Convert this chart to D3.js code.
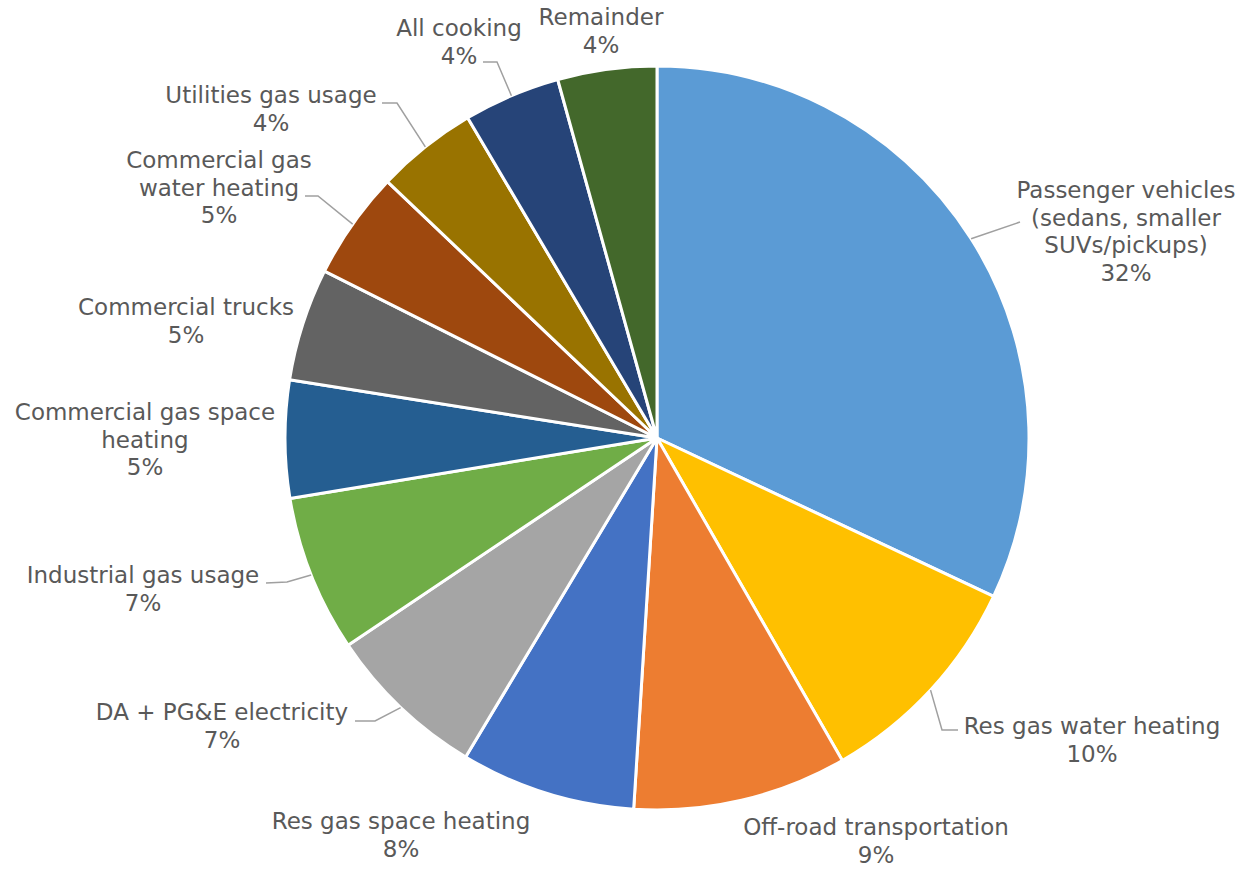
<!DOCTYPE html>
<html>
<head>
<meta charset="utf-8">
<script src="https://cdn.jsdelivr.net/npm/d3@7"></script>
<style>
  body { margin: 0; background: #fff; }
  text { font-family: "DejaVu Sans", Verdana, sans-serif; fill: #595959; }
</style>
</head>
<body>
<svg id="chart" width="1250" height="869"></svg>
<script>
"use strict";

// slices, clockwise from 12 o'clock
var categories = [
  "Passenger vehicles (sedans, smaller SUVs/pickups)",
  "Res gas water heating",
  "Off-road transportation",
  "Res gas space heating",
  "DA + PG&E electricity",
  "Industrial gas usage",
  "Commercial gas space heating",
  "Commercial trucks",
  "Commercial gas water heating",
  "Utilities gas usage",
  "All cooking",
  "Remainder"
];
var shares = [32.0, 9.7, 9.3, 7.6, 7.0, 6.8, 5.1, 4.9, 4.7, 4.4, 4.2, 4.3];

// how each label wraps in the original
var labelLines = [
  ["Passenger vehicles", "(sedans, smaller", "SUVs/pickups)"],
  ["Res gas water heating"],
  ["Off-road transportation"],
  ["Res gas space heating"],
  ["DA + PG&E electricity"],
  ["Industrial gas usage"],
  ["Commercial gas space", "heating"],
  ["Commercial trucks"],
  ["Commercial gas", "water heating"],
  ["Utilities gas usage"],
  ["All cooking"],
  ["Remainder"]
];

var colors = ["#5b9bd5", "#ffc000", "#ed7d31", "#4472c4", "#a5a5a5", "#70ad47",
              "#255e91", "#636363", "#9e480e", "#997300", "#264478", "#43682b"];

// label block centre (x, first baseline) and leader bend/end, per slice
var labelLayout = [
  {x: 1126, y: 198, lead: [1020, 222]},
  {x: 1092, y: 734, lead: [958, 730], elbow: [942, 730]},
  {x: 876,  y: 835},
  {x: 401,  y: 829},
  {x: 222,  y: 720, lead: [355, 721], elbow: [375, 721]},
  {x: 143,  y: 583, lead: [266, 583], elbow: [287, 582]},
  {x: 145,  y: 420},
  {x: 186,  y: 315},
  {x: 219,  y: 168, lead: [305, 196], elbow: [318, 196]},
  {x: 271,  y: 103, lead: [382, 103], elbow: [397, 103]},
  {x: 459,  y: 36,  lead: [483, 62], elbow: [497, 62]},
  {x: 601,  y: 25}
];

var cx = 657, cy = 438, R = 372;
var lineH = 27.5;

var svg = d3.select("#chart");
var g = svg.append("g").attr("transform", "translate(" + cx + "," + cy + ")");

var pie = d3.pie().sort(null).value(function(d) { return d; });
var arcs = pie(shares);
var arc = d3.arc().innerRadius(0).outerRadius(R);
var edge = d3.arc().innerRadius(R).outerRadius(R);

g.selectAll("path.slice")
  .data(arcs)
  .enter().append("path")
    .attr("class", "slice")
    .attr("d", arc)
    .attr("fill", function(d, i) { return colors[i]; })
    .attr("stroke", "#fff")
    .attr("stroke-width", 3)
    .attr("stroke-linejoin", "round");

// leader lines: from the slice rim at mid-angle to the label
var leaders = svg.append("g")
  .attr("fill", "none")
  .attr("stroke", "#a0a0a0")
  .attr("stroke-width", 1.5);

arcs.forEach(function(d, i) {
  var L = labelLayout[i];
  if (!L.lead) return;
  var p = edge.centroid(d);
  var pts = [[p[0] + cx, p[1] + cy]];
  if (L.elbow) pts.push(L.elbow);
  pts.push(L.lead);
  leaders.append("path").attr("d", d3.line()(pts));
});

var labels = svg.append("g")
  .attr("font-size", "23px")
  .attr("text-anchor", "middle");

arcs.forEach(function(d, i) {
  var L = labelLayout[i];
  var lines = labelLines[i].concat([Math.round(shares[i]) + "%"]);
  var t = labels.append("text").attr("x", L.x).attr("y", L.y);
  lines.forEach(function(s, k) {
    t.append("tspan")
      .attr("x", L.x)
      .attr("dy", k == 0 ? 0 : lineH)
      .text(s);
  });
});
</script>
</body>
</html>
